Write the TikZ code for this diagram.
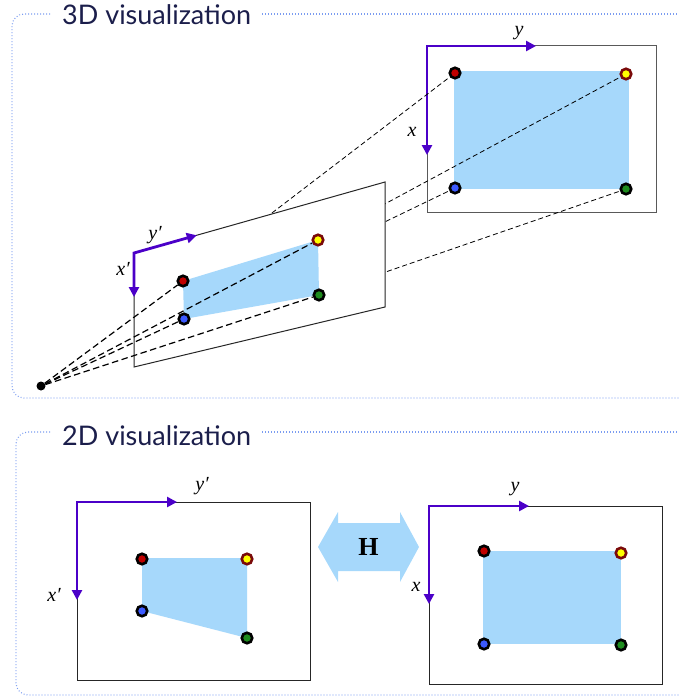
\documentclass[tikz,border=0pt]{standalone}
\usepackage{fontspec}
\setmainfont{Liberation Serif}
\newfontfamily\titlefont{Lato}
\usetikzlibrary{arrows.meta,calc}
\definecolor{fillblue}{HTML}{A6D8FB}
\definecolor{axisc}{HTML}{4B00C8}
\definecolor{framec}{HTML}{7B9CF0}
\definecolor{titlec}{HTML}{1B1E4B}
\definecolor{dred}{HTML}{C00000}
\definecolor{dyellow}{HTML}{FFFF00}
\definecolor{dmaroon}{HTML}{7A0A0A}
\definecolor{dblue}{HTML}{3C5AFF}
\definecolor{dgreen}{HTML}{1E8C1E}
\begin{document}
\begin{tikzpicture}[x=1pt,y=-1pt,
  frame/.style={draw=framec, line width=1.1pt, dash pattern=on 0.9pt off 2.1pt, rounded corners=12pt},
  titletext/.style={font=\titlefont\fontsize{27}{30}\selectfont, text=titlec, anchor=base west, inner sep=0},
  axisarrow/.style={draw=axisc, line width=2.8pt, line join=miter, {Triangle[length=10pt,width=10pt]}-{Triangle[length=10pt,width=10pt]}},
  axlabel/.style={font=\itshape\fontsize{20}{22}\selectfont, inner sep=0},
  ptdot/.style={circle, draw=black, line width=2.6pt, minimum size=10.5pt, inner sep=0},
  cdot/.style={circle, fill=black, minimum size=9pt, inner sep=0},
  ray/.style={draw=black, line width=0.8pt, dash pattern=on 5pt off 3pt},
  frontray/.style={draw=black, line width=1.2pt, dash pattern=on 6.5pt off 3.5pt},
  img/.style={draw=black!85, line width=1pt, fill=white},
  quadfill/.style={fill=fillblue, draw=none}
]
\useasboundingbox (0,0) rectangle (679,698);

% frames
\draw[frame] (50,14) -- (12,14) -- (12,398) -- (679,398);
\draw[frame] (262,14) -- (679,14);
\node[titletext] (t3d) at (62,25) {3D visualization};
\draw[frame] (50,432) -- (16,432) -- (16,695) -- (679,695);
\draw[frame] (262,432) -- (679,432);
\node[titletext] (t2d) at (62,445) {2D visualization};

% ---------- 3D: back image ----------
\draw[img, draw=black!65] (427,46) rectangle (656,212);
\fill[quadfill] (454,71) rectangle (629,189);
\draw[axisarrow] (427,155) -- (427,46) -- (536,46);
\node[axlabel] (ly3) at (519,33) {y};
\node[axlabel] (lx3) at (412,132) {x};

\coordinate (cpr) at (183,281);
\coordinate (cpy) at (318,240);
\coordinate (cpg) at (319,295);
\coordinate (cpb) at (184,319);

\node[ptdot, fill=dred] (br) at (455,73) {};
\node[ptdot, fill=dyellow, draw=dmaroon] (by) at (626,74) {};
\node[ptdot, fill=dblue] (bb) at (455,188) {};
\node[ptdot, fill=dgreen] (bg) at (626,189) {};

\draw[ray] (cpr) -- (br);
\draw[ray] (cpy) -- (by);
\draw[ray] (cpb) -- (bb);
\draw[ray] (cpg) -- (bg);

% plane
\coordinate (TL) at (134,253);
\coordinate (TR) at (385,182);
\coordinate (BR) at (385,307);
\coordinate (BL) at (134,367);
\draw[img] (TL) -- (TR) -- (BR) -- (BL) -- cycle;
\fill[quadfill] (cpr) -- (cpy) -- (cpg) -- (cpb) -- cycle;
\draw[axisarrow] (134,297) -- (TL) -- ($(TL)!0.25!(TR)$);
\node[axlabel] (ly2) at (155,235) {y′};
\node[axlabel] (lx2) at (123,269) {x′};

\node[ptdot, fill=dred] (pr) at (cpr) {};
\node[ptdot, fill=dyellow, draw=dmaroon] (py) at (cpy) {};
\node[ptdot, fill=dblue] (pb) at (cpb) {};
\node[ptdot, fill=dgreen] (pg) at (cpg) {};

\node[cdot] (o) at (41,386) {};
\draw[frontray] (o) -- (pr);
\draw[frontray] (o) -- (py);
\draw[frontray] (o) -- (pb);
\draw[frontray] (o) -- (pg);

% ---------- 2D: left image ----------
\draw[img] (77,502) rectangle (310,680);
\fill[quadfill] (142,558) -- (247,558) -- (247,638) -- (142,611) -- cycle;
\draw[axisarrow] (77,600) -- (77,502) -- (177,502);
\node[axlabel] (lyl) at (202,486) {y′};
\node[axlabel] (lxl) at (54,595) {x′};
\node[ptdot, fill=dred] (lr) at (142,559) {};
\node[ptdot, fill=dyellow, draw=dmaroon] (ly) at (247,559) {};
\node[ptdot, fill=dblue] (lb) at (142,611) {};
\node[ptdot, fill=dgreen] (lg) at (247,638) {};

% ---------- 2D: right image ----------
\draw[img] (429,506) rectangle (662,684);
\fill[quadfill] (483,551) rectangle (621,644);
\draw[axisarrow] (429,604) -- (429,506) -- (529,506);
\node[axlabel] (lyr) at (515,489) {y};
\node[axlabel] (lxr) at (416,587) {x};
\node[ptdot, fill=dred] (rr) at (484,551) {};
\node[ptdot, fill=dyellow, draw=dmaroon] (ry) at (621,553) {};
\node[ptdot, fill=dblue] (rb) at (484,644) {};
\node[ptdot, fill=dgreen] (rg) at (621,645) {};

% H arrow
\fill[fillblue] (318,547) -- (338,512) -- (338,523) -- (400,523) -- (400,512) -- (419,547)
  -- (400,582) -- (400,571) -- (338,571) -- (338,582) -- cycle;
\node[font=\bfseries\fontsize{26}{28}\selectfont, inner sep=0] (H) at (368.5,547) {H};
\end{tikzpicture}
\end{document}
